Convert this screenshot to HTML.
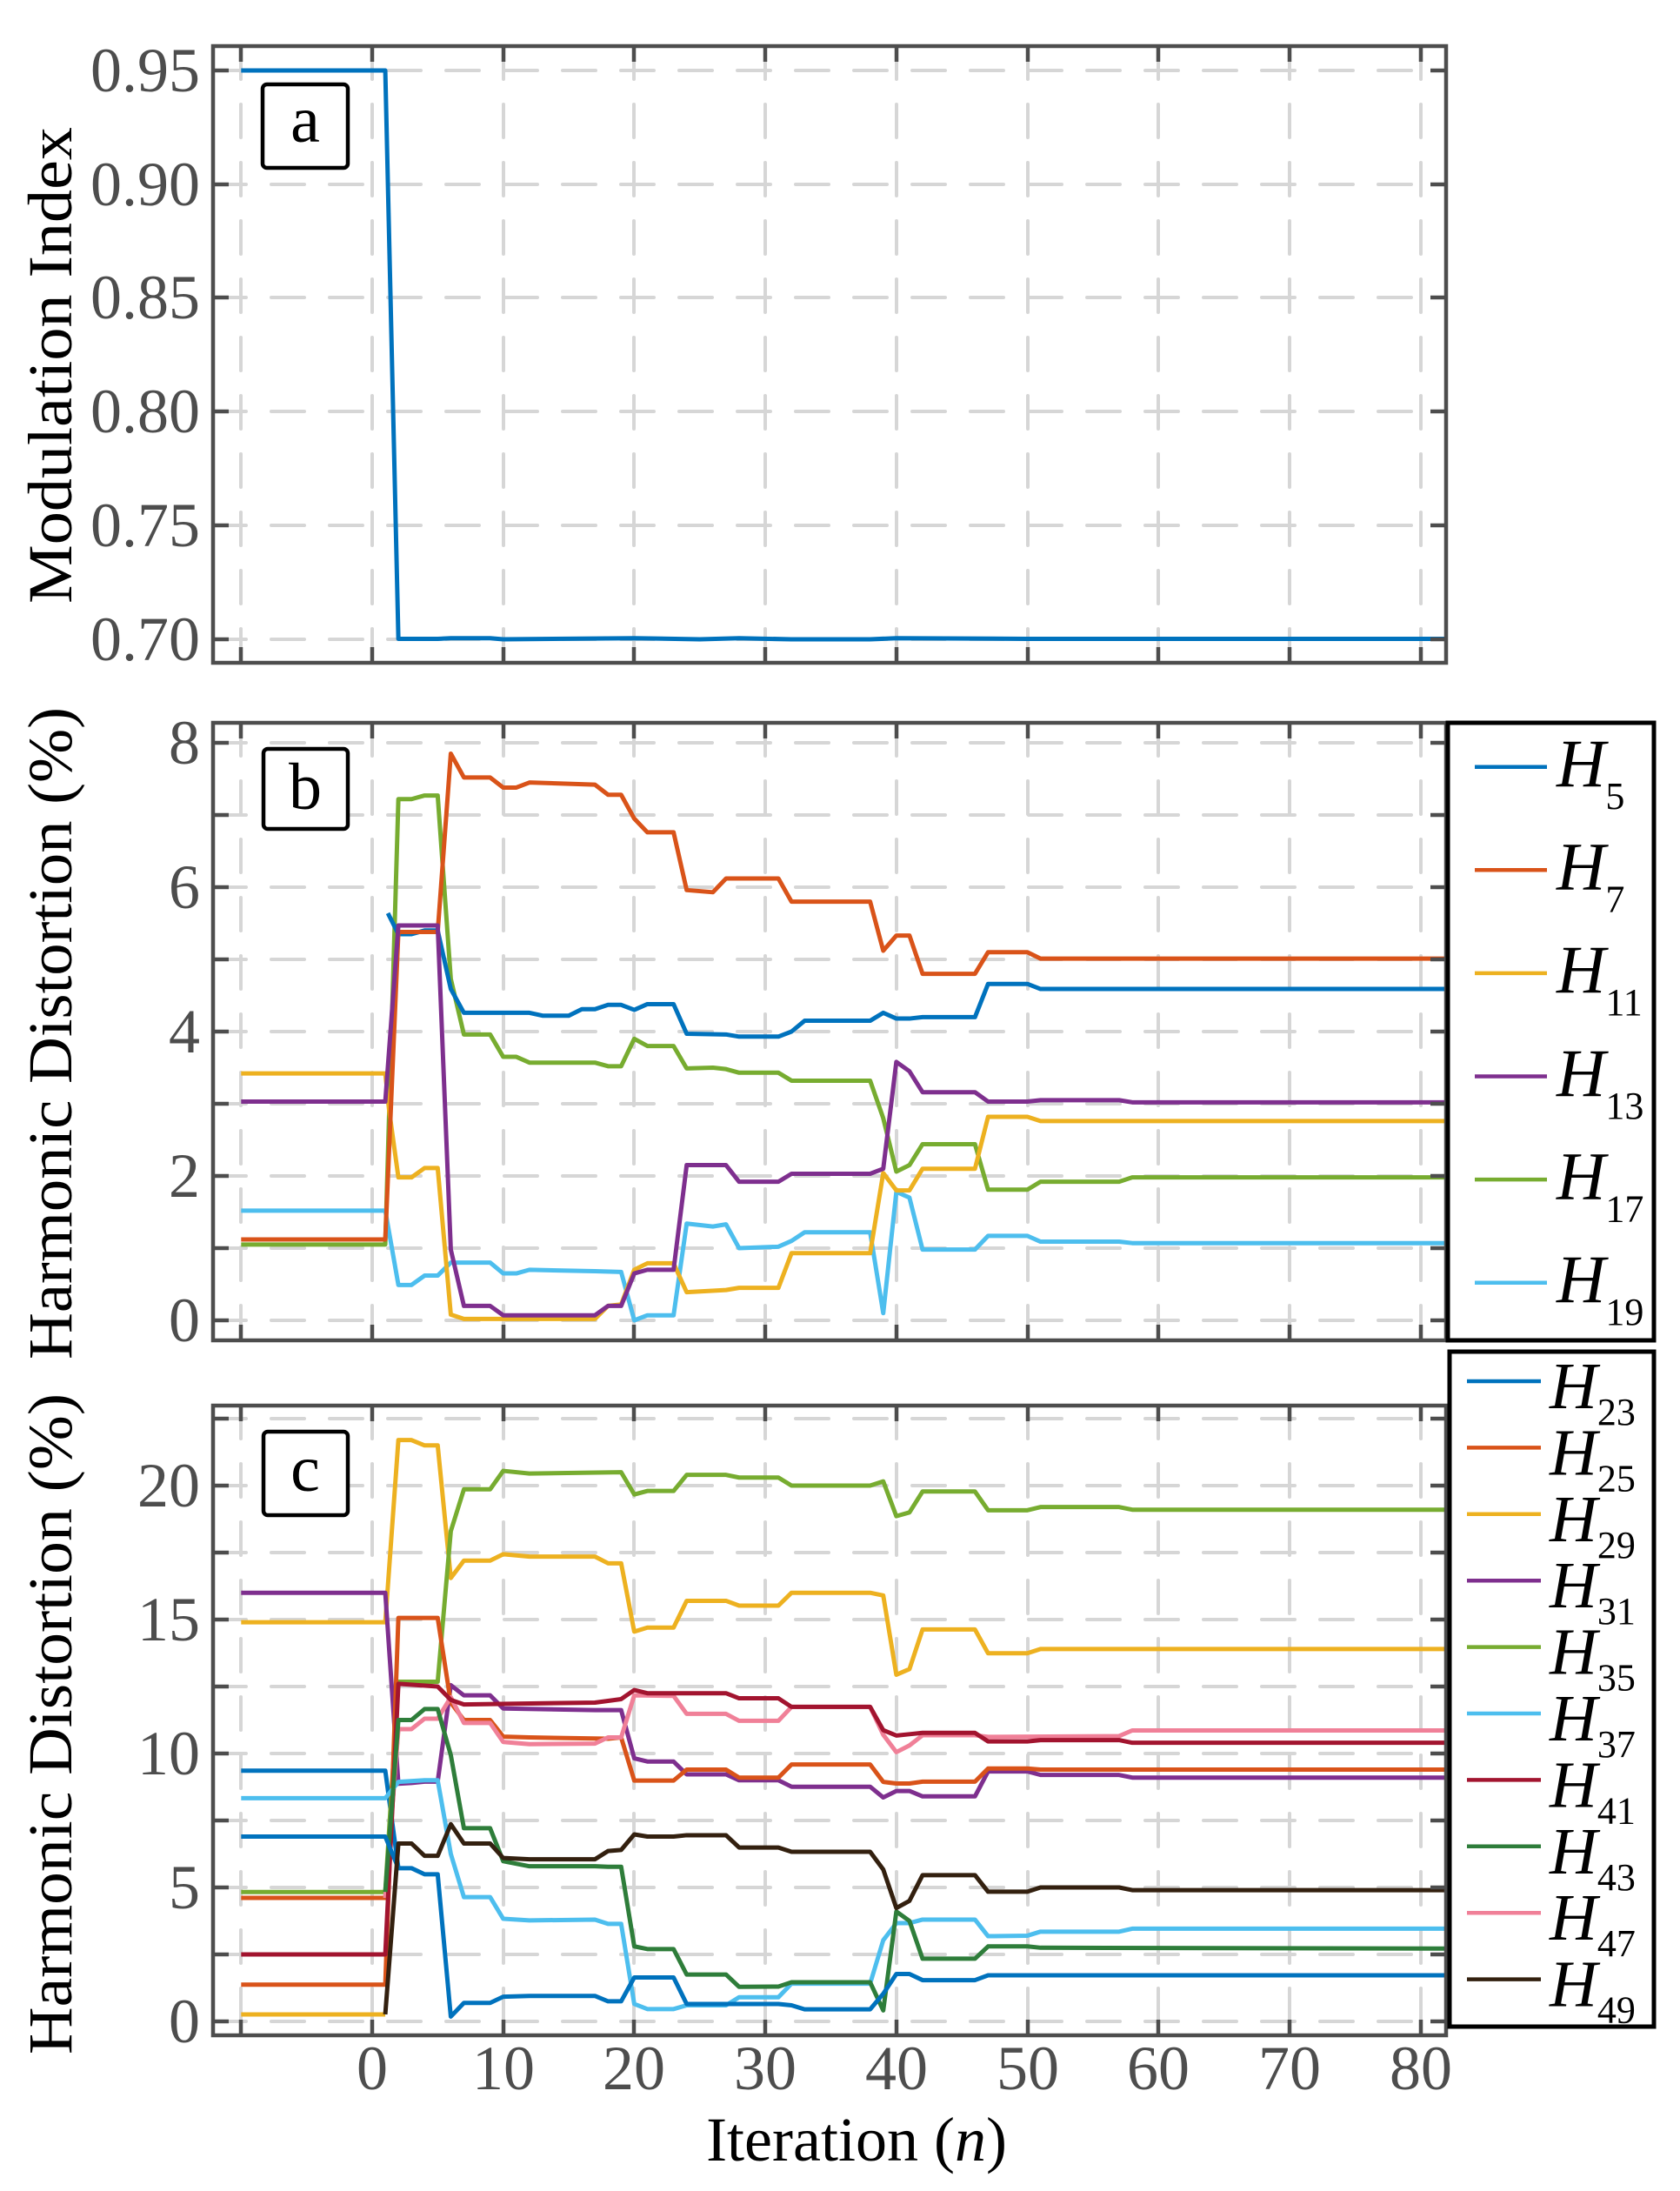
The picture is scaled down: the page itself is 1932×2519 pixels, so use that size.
<!DOCTYPE html>
<html><head><meta charset="utf-8"><style>
html,body{margin:0;padding:0;background:#fff;}
svg{display:block;}
text{font-family:"Liberation Serif",serif;}
.tk{fill:#4d4d4d;font-size:72px;}
.gr{stroke:#d6d6d6;stroke-width:4;stroke-dasharray:38 29;stroke-linecap:round;fill:none;}
.ax{stroke:#4d4d4d;stroke-width:4.5;fill:none;}
.d{fill:none;stroke-width:5;stroke-linejoin:round;vector-effect:non-scaling-stroke;}
</style></head><body>
<svg width="1932" height="2519" viewBox="0 0 1932 2519" xmlns="http://www.w3.org/2000/svg">
<defs>
<clipPath id="ca"><rect x="245" y="53" width="1418" height="709"/></clipPath>
<clipPath id="cb"><rect x="245" y="831" width="1418" height="710"/></clipPath>
<clipPath id="cc"><rect x="245" y="1616" width="1418" height="724"/></clipPath>
</defs>

<g class="gr">
<path d="M277 53V762M428 53V762M579 53V762M729 53V762M880 53V762M1031 53V762M1182 53V762M1332 53V762M1483 53V762M1634 53V762"/>
<path d="M277 831V1541M428 831V1541M579 831V1541M729 831V1541M880 831V1541M1031 831V1541M1182 831V1541M1332 831V1541M1483 831V1541M1634 831V1541"/>
<path d="M277 1616V2340M428 1616V2340M579 1616V2340M729 1616V2340M880 1616V2340M1031 1616V2340M1182 1616V2340M1332 1616V2340M1483 1616V2340M1634 1616V2340"/>
<path d="M245 81H1663M245 212H1663M245 342H1663M245 473H1663M245 604H1663M245 735H1663"/>
<path d="M245 854H1663M245 937H1663M245 1020H1663M245 1103H1663M245 1186H1663M245 1269H1663M245 1352H1663M245 1435H1663M245 1518H1663"/>
<path d="M245 1631H1663M245 1708H1663M245 1785H1663M245 1862H1663M245 1939H1663M245 2016H1663M245 2093H1663M245 2170H1663M245 2247H1663M245 2324H1663"/>
</g>

<g clip-path="url(#ca)">
<g transform="translate(428,2564.3) scale(15.07,-2614)">
<polyline class="d" stroke="#0072BD" points="-10,0.95 1,0.95 2,0.70 5,0.70 6,0.7003 9,0.7003 10,0.6998 20,0.7003 25,0.6998 28,0.7003 32,0.6998 38,0.6998 40,0.7003 50,0.7 82,0.7"/>
</g></g>

<g clip-path="url(#cb)">
<g transform="translate(428,1518) scale(15.07,-83)">
<polyline class="d" stroke="#77AC30" points="-10,1.05 1,1.05 2,7.22 3,7.22 4,7.27 5,7.27 6,4.73 7,3.96 9,3.96 10,3.65 11,3.65 12,3.57 17,3.57 18,3.52 19,3.52 20,3.9 21,3.8 23,3.8 24,3.49 26,3.5 27,3.48 28,3.43 31,3.43 32,3.32 38,3.32 39,2.8 40,2.06 41,2.15 42,2.44 46,2.44 47,1.81 50,1.81 51,1.92 57,1.92 58,1.98 82,1.98"/>
<polyline class="d" stroke="#4DBEEE" points="-10,1.52 1,1.52 2,0.49 3,0.49 4,0.62 5,0.62 6,0.8 9,0.8 10,0.65 11,0.65 12,0.7 17,0.68 19,0.67 20,0.0 21,0.07 23,0.07 24,1.34 26,1.3 27,1.33 28,1.0 31,1.02 32,1.1 33,1.22 38,1.22 39,0.1 40,1.78 41,1.7 42,0.98 46,0.98 47,1.17 50,1.17 51,1.09 57,1.09 58,1.07 82,1.07"/>
<polyline class="d" stroke="#EDB120" points="-10,3.42 1,3.42 1.3,2.9 2,1.98 3,1.98 4,2.11 5,2.11 6,0.08 7,0.02 17,0.02 18,0.2 19,0.22 20,0.7 21,0.79 23,0.79 24,0.39 27,0.42 28,0.45 31,0.45 32,0.93 38,0.93 39,2.04 40,1.8 41,1.8 42,2.1 46,2.1 47,2.82 50,2.82 51,2.76 82,2.76"/>
<polyline class="d" stroke="#0072BD" points="1.2,5.64 2,5.35 3,5.35 4,5.4 5,5.4 6,4.59 7,4.26 12,4.26 13,4.22 15,4.22 16,4.31 17,4.31 18,4.37 19,4.37 20,4.3 21,4.38 23,4.38 24,3.97 27,3.96 28,3.93 31,3.93 32,4.0 33,4.15 38,4.15 39,4.26 40,4.18 41,4.18 42,4.2 46,4.2 47,4.66 50,4.66 51,4.59 82,4.59"/>
<polyline class="d" stroke="#D95319" points="-10,1.12 1,1.12 2,5.38 5,5.38 6,7.85 7,7.52 9,7.52 10,7.38 11,7.38 12,7.45 17,7.42 18,7.28 19,7.28 20,6.95 21,6.76 23,6.76 24,5.96 26,5.93 27,6.12 31,6.12 32,5.8 38,5.8 39,5.12 40,5.33 41,5.33 42,4.8 46,4.8 47,5.1 50,5.1 51,5.01 82,5.01"/>
<polyline class="d" stroke="#7E2F8E" points="-10,3.03 1,3.03 2,5.47 5,5.47 6,0.98 7,0.2 9,0.2 10,0.07 17,0.07 18,0.2 19,0.2 20,0.65 21,0.7 23,0.7 24,2.15 27,2.15 28,1.92 31,1.92 32,2.03 38,2.03 39,2.1 40,3.58 41,3.45 42,3.16 46,3.16 47,3.03 50,3.03 51,3.05 57,3.05 58,3.02 82,3.02"/>
</g></g>

<g clip-path="url(#cc)">
<g transform="translate(428,2324) scale(15.07,-30.8)">
<polyline class="d" stroke="#0072BD" points="-10,9.36 1,9.36 2,5.72"/>
<polyline class="d" stroke="#D95319" points="-10,4.61 1,4.61 2,11.0"/>
<polyline class="d" stroke="#EDB120" points="-10,0.26 1,0.26"/>
<polyline class="d" stroke="#EDB120" points="-10,14.9 1,14.9 2,21.7 3,21.7 4,21.5 5,21.5 6,16.55 7,17.2 9,17.2 10,17.44 12,17.35 17,17.35 18,17.1 19,17.1 20,14.55 21,14.7 23,14.7 24,15.7 27,15.7 28,15.52 31,15.52 32,16.0 38,16.0 39,15.9 40,12.94 41,13.15 42,14.63 46,14.63 47,13.74 50,13.74 51,13.9 82,13.9"/>
<polyline class="d" stroke="#77AC30" points="-10,4.83 1,4.83 2,12.68 5,12.68 6,18.3 7,19.86 9,19.86 10,20.55 12,20.45 19,20.5 20,19.67 21,19.8 23,19.8 24,20.4 27,20.4 28,20.3 31,20.3 32,20.0 38,20.0 39,20.16 40,18.86 41,19.0 42,19.78 46,19.78 47,19.08 50,19.08 51,19.2 57,19.2 58,19.1 82,19.1"/>
<polyline class="d" stroke="#7E2F8E" points="-10,16.0 1,16.0 2,8.87 3,8.9 4,8.95 5,8.95 6,12.55 7,12.17 9,12.17 10,11.68 17,11.62 19,11.62 20,9.82 21,9.7 23,9.7 24,9.22 27,9.22 28,9.0 31,9.0 32,8.76 38,8.76 39,8.36 40,8.6 41,8.6 42,8.4 46,8.4 47,9.33 50,9.33 51,9.2 57,9.2 58,9.1 82,9.1"/>
<polyline class="d" stroke="#D95319" points="-10,1.37 1,1.37 2,15.06 5,15.06 6,11.9 7,11.25 9,11.25 10,10.63 12,10.6 18,10.55 19,10.6 20,8.99 23,8.99 24,9.4 27,9.4 28,9.1 31,9.1 32,9.59 38,9.59 39,8.94 40,8.88 41,8.88 42,8.95 46,8.95 47,9.44 50,9.44 51,9.4 82,9.4"/>
<polyline class="d" stroke="#F08098" points="1,4.61 2,10.91 3,10.91 4,11.3 5,11.3 6,12.1 7,11.14 9,11.14 10,10.43 12,10.35 17,10.37 18,10.6 19,10.6 20,12.17 23,12.15 24,11.48 27,11.48 28,11.22 31,11.22 32,11.74 38,11.74 39,10.7 40,10.05 41,10.3 42,10.68 46,10.68 47,10.62 57,10.65 58,10.86 82,10.86"/>
<polyline class="d" stroke="#A2142F" points="-10,2.5 1,2.5 2,12.6 5,12.5 6,12.0 7,11.83 17,11.9 19,12.03 20,12.37 21,12.25 27,12.25 28,12.06 31,12.06 32,11.74 38,11.74 39,10.87 40,10.67 41,10.72 42,10.77 46,10.77 47,10.45 50,10.45 51,10.5 57,10.5 58,10.4 82,10.4"/>
<polyline class="d" stroke="#4DBEEE" points="-10,8.33 1,8.33 2,8.94 4,9.0 5,9.0 6,6.25 7,4.64 9,4.64 10,3.83 12,3.77 17,3.8 18,3.64 19,3.64 20,0.65 21,0.46 23,0.46 24,0.6 27,0.6 28,0.9 31,0.9 32,1.41 38,1.41 39,3.03 40,3.67 41,3.67 42,3.8 46,3.8 47,3.18 50,3.2 51,3.35 57,3.35 58,3.46 82,3.46"/>
<polyline class="d" stroke="#2E7D3A" points="1,4.83 2,11.25 3,11.25 4,11.66 5,11.66 6,9.94 7,7.21 9,7.21 10,5.98 12,5.79 17,5.79 18,5.77 19,5.77 20,2.8 21,2.7 23,2.7 24,1.75 27,1.75 28,1.29 31,1.3 32,1.46 38,1.46 39,0.41 40,4.1 41,3.75 42,2.34 46,2.34 47,2.8 50,2.8 51,2.75 82,2.72"/>
<polyline class="d" stroke="#0072BD" points="-10,6.9 1,6.9 2,5.72 3,5.72 4,5.49 5,5.49 6,0.18 7,0.69 9,0.69 10,0.92 12,0.95 17,0.95 18,0.75 19,0.75 20,1.64 23,1.64 24,0.65 27,0.65 31,0.65 32,0.6 33,0.45 38,0.45 39,1.03 40,1.77 41,1.77 42,1.54 46,1.54 47,1.72 82,1.72"/>
<polyline class="d" stroke="#33200F" points="1,0.26 2,6.64 3,6.64 4,6.18 5,6.18 6,7.36 7,6.64 9,6.64 10,6.1 12,6.05 17,6.05 18,6.36 19,6.4 20,6.98 21,6.9 23,6.9 24,6.95 27,6.95 28,6.49 31,6.49 32,6.33 38,6.33 39,5.67 40,4.23 41,4.5 42,5.46 46,5.46 47,4.84 50,4.84 51,5.0 57,5.0 58,4.9 82,4.9"/>
</g></g>

<rect class="ax" x="245" y="53" width="1418" height="709"/>
<rect class="ax" x="245" y="831" width="1418" height="710"/>
<rect class="ax" x="245" y="1616" width="1418" height="724"/>

<g stroke="#4d4d4d" stroke-width="4.5" fill="none">
<path d="M277 53v18M428 53v18M579 53v18M729 53v18M880 53v18M1031 53v18M1182 53v18M1332 53v18M1483 53v18M1634 53v18
M277 762v-18M428 762v-18M579 762v-18M729 762v-18M880 762v-18M1031 762v-18M1182 762v-18M1332 762v-18M1483 762v-18M1634 762v-18
M277 831v18M428 831v18M579 831v18M729 831v18M880 831v18M1031 831v18M1182 831v18M1332 831v18M1483 831v18M1634 831v18
M277 1541v-18M428 1541v-18M579 1541v-18M729 1541v-18M880 1541v-18M1031 1541v-18M1182 1541v-18M1332 1541v-18M1483 1541v-18M1634 1541v-18
M277 1616v18M428 1616v18M579 1616v18M729 1616v18M880 1616v18M1031 1616v18M1182 1616v18M1332 1616v18M1483 1616v18M1634 1616v18
M277 2340v-18M428 2340v-18M579 2340v-18M729 2340v-18M880 2340v-18M1031 2340v-18M1182 2340v-18M1332 2340v-18M1483 2340v-18M1634 2340v-18
M245 81h18M245 212h18M245 342h18M245 473h18M245 604h18M245 735h18
M1663 81h-18M1663 212h-18M1663 342h-18M1663 473h-18M1663 604h-18M1663 735h-18
M245 854h18M245 937h18M245 1020h18M245 1103h18M245 1186h18M245 1269h18M245 1352h18M245 1435h18M245 1518h18
M1663 854h-18M1663 937h-18M1663 1020h-18M1663 1103h-18M1663 1186h-18M1663 1269h-18M1663 1352h-18M1663 1435h-18M1663 1518h-18
M245 1631h18M245 1708h18M245 1785h18M245 1862h18M245 1939h18M245 2016h18M245 2093h18M245 2170h18M245 2247h18M245 2324h18
M1663 1631h-18M1663 1708h-18M1663 1785h-18M1663 1862h-18M1663 1939h-18M1663 2016h-18M1663 2093h-18M1663 2170h-18M1663 2247h-18M1663 2324h-18"/>
</g>

<g class="tk" text-anchor="end">
<text x="230" y="105">0.95</text>
<text x="230" y="236">0.90</text>
<text x="230" y="366">0.85</text>
<text x="230" y="497">0.80</text>
<text x="230" y="628">0.75</text>
<text x="230" y="759">0.70</text>
<text x="230" y="878">8</text>
<text x="230" y="1044">6</text>
<text x="230" y="1210">4</text>
<text x="230" y="1376">2</text>
<text x="230" y="1542">0</text>
<text x="230" y="1732">20</text>
<text x="230" y="1886">15</text>
<text x="230" y="2040">10</text>
<text x="230" y="2194">5</text>
<text x="230" y="2348">0</text>
</g>
<g class="tk" text-anchor="middle">
<text x="428" y="2402">0</text>
<text x="579" y="2402">10</text>
<text x="729" y="2402">20</text>
<text x="880" y="2402">30</text>
<text x="1031" y="2402">40</text>
<text x="1182" y="2402">50</text>
<text x="1332" y="2402">60</text>
<text x="1483" y="2402">70</text>
<text x="1634" y="2402">80</text>
</g>

<text x="985" y="2484" text-anchor="middle" font-size="72" fill="#000">Iteration (<tspan font-style="italic">n</tspan>)</text>
<text transform="translate(82,420) rotate(-90)" text-anchor="middle" font-size="72" textLength="548" lengthAdjust="spacingAndGlyphs">Modulation Index</text>
<text transform="translate(82,1188) rotate(-90)" text-anchor="middle" font-size="72" textLength="750" lengthAdjust="spacingAndGlyphs">Harmonic Distortion (%)</text>
<text transform="translate(82,1982) rotate(-90)" text-anchor="middle" font-size="72" textLength="760" lengthAdjust="spacingAndGlyphs">Harmonic Distortion (%)</text>

<g fill="#fff" stroke="#000" stroke-width="4.5">
<rect x="302" y="97" width="98" height="96" rx="5"/>
<rect x="303" y="861" width="97" height="92" rx="5"/>
<rect x="303" y="1646" width="97" height="96" rx="5"/>
</g>
<g font-size="76" text-anchor="middle" fill="#000">
<text x="351" y="163">a</text>
<text x="351" y="930">b</text>
<text x="351" y="1714">c</text>
</g>

<rect x="1665" y="831" width="237" height="710" fill="#fff" stroke="#000" stroke-width="5"/>
<g stroke-width="4.5" fill="none">
<path d="M1696 881.7H1779" stroke="#0072BD"/>
<path d="M1696 1000.3H1779" stroke="#D95319"/>
<path d="M1696 1118.9H1779" stroke="#EDB120"/>
<path d="M1696 1237.5H1779" stroke="#7E2F8E"/>
<path d="M1696 1356.1H1779" stroke="#77AC30"/>
<path d="M1696 1474.7H1779" stroke="#4DBEEE"/>
</g>
<g font-size="78" fill="#000">
<text x="1790" y="904"><tspan font-style="italic">H</tspan><tspan font-size="44" dy="26">5</tspan></text>
<text x="1790" y="1022.6"><tspan font-style="italic">H</tspan><tspan font-size="44" dy="26">7</tspan></text>
<text x="1790" y="1141.2"><tspan font-style="italic">H</tspan><tspan font-size="44" dy="26">11</tspan></text>
<text x="1790" y="1259.8"><tspan font-style="italic">H</tspan><tspan font-size="44" dy="26">13</tspan></text>
<text x="1790" y="1378.4"><tspan font-style="italic">H</tspan><tspan font-size="44" dy="26">17</tspan></text>
<text x="1790" y="1497"><tspan font-style="italic">H</tspan><tspan font-size="44" dy="26">19</tspan></text>
</g>

<rect x="1667" y="1554" width="235" height="776" fill="#fff" stroke="#000" stroke-width="5"/>
<g stroke-width="4.5" fill="none">
<path d="M1687 1588H1772" stroke="#0072BD"/>
<path d="M1687 1664.4H1772" stroke="#D95319"/>
<path d="M1687 1740.8H1772" stroke="#EDB120"/>
<path d="M1687 1817.2H1772" stroke="#7E2F8E"/>
<path d="M1687 1893.6H1772" stroke="#77AC30"/>
<path d="M1687 1970H1772" stroke="#4DBEEE"/>
<path d="M1687 2046.4H1772" stroke="#A2142F"/>
<path d="M1687 2122.8H1772" stroke="#2E7D3A"/>
<path d="M1687 2199.2H1772" stroke="#F08098"/>
<path d="M1687 2275.6H1772" stroke="#33200F"/>
</g>
<g font-size="76" fill="#000">
<text x="1782" y="1619"><tspan font-style="italic">H</tspan><tspan font-size="44" dy="19">23</tspan></text>
<text x="1782" y="1695.4"><tspan font-style="italic">H</tspan><tspan font-size="44" dy="19">25</tspan></text>
<text x="1782" y="1771.8"><tspan font-style="italic">H</tspan><tspan font-size="44" dy="19">29</tspan></text>
<text x="1782" y="1848.2"><tspan font-style="italic">H</tspan><tspan font-size="44" dy="19">31</tspan></text>
<text x="1782" y="1924.6"><tspan font-style="italic">H</tspan><tspan font-size="44" dy="19">35</tspan></text>
<text x="1782" y="2001"><tspan font-style="italic">H</tspan><tspan font-size="44" dy="19">37</tspan></text>
<text x="1782" y="2077.4"><tspan font-style="italic">H</tspan><tspan font-size="44" dy="19">41</tspan></text>
<text x="1782" y="2153.8"><tspan font-style="italic">H</tspan><tspan font-size="44" dy="19">43</tspan></text>
<text x="1782" y="2230.2"><tspan font-style="italic">H</tspan><tspan font-size="44" dy="19">47</tspan></text>
<text x="1782" y="2306.6"><tspan font-style="italic">H</tspan><tspan font-size="44" dy="19">49</tspan></text>
</g>
</svg>
</body></html>
